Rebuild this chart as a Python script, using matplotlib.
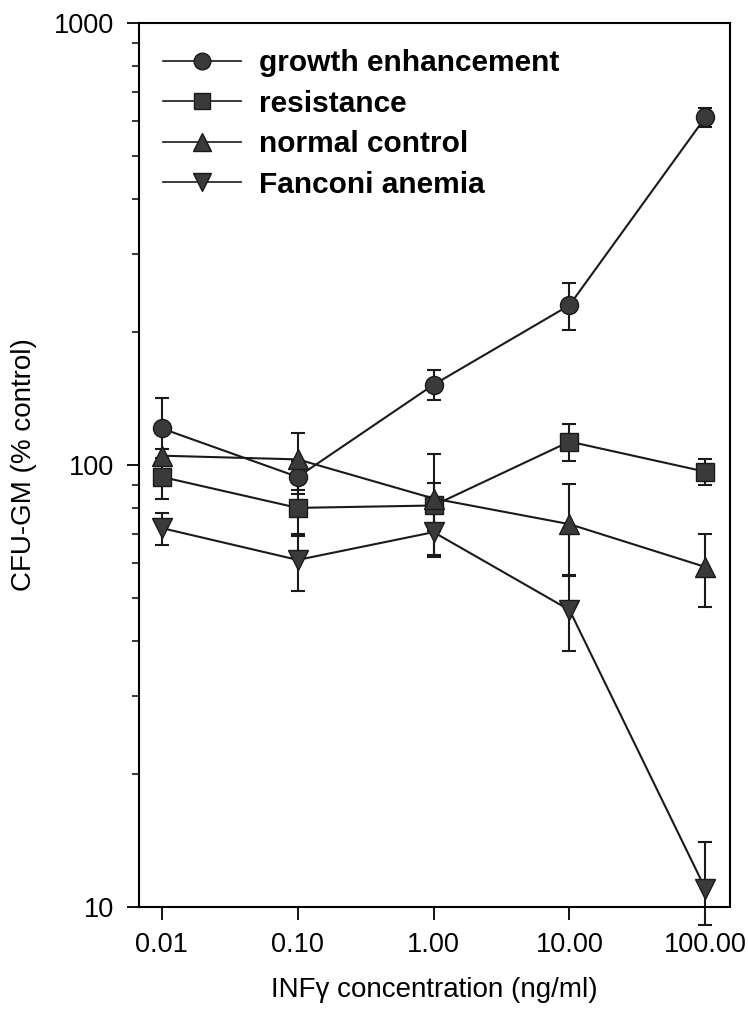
import matplotlib
matplotlib.use("Agg")
import matplotlib.pyplot as plt
from matplotlib.lines import Line2D
import numpy as np

plt.rcParams['font.family'] = ['Liberation Sans', 'DejaVu Sans']

conc = [0.01, 0.1, 1, 10, 100]
conc_labels = ["0.01", "0.10", "1.00", "10.00", "100.00"]

growth = [121, 94, 152, 230, 612]
growth_err = [21, 8, 12, 28, 30]

resistance = [94, 80, 81, 113, 96.6]
resistance_err = [10, 11, 10, 11, 6.5]

normal = [105, 103, 84, 73.5, 58.8]
normal_err = [4, 15, 22, 17, 11]

fanconi = [72, 61, 70.5, 47, 11.0]
fanconi_err_low = [6, 9, 8, 9, 1.9]
fanconi_err_high = [6, 9, 8, 9, 3]

series = [
    ("growth enhancement", growth, [growth_err, growth_err], "o"),
    ("resistance", resistance, [resistance_err, resistance_err], "s"),
    ("normal control", normal, [normal_err, normal_err], "^"),
    ("Fanconi anemia", fanconi, [fanconi_err_low, fanconi_err_high], "v"),
]

fig = plt.figure(figsize=(7.48, 10.23), dpi=100)
ax = fig.add_axes([0.186, 0.1134, 0.790, 0.864])

handles = []
for label, vals, err, mk in series:
    ms = 13 if mk in ("o", "s") else 14
    ax.errorbar(conc, vals, yerr=err, marker=mk, ms=ms, color="#1a1a1a",
                mfc="#3a3a3a", mec="#1a1a1a", lw=1.5, elinewidth=1.5,
                capsize=4.7, capthick=1.5, clip_on=False)
    handles.append(Line2D([], [], marker=mk, ms=ms - 1, color="#1a1a1a",
                          mfc="#3a3a3a", mec="#1a1a1a", lw=1.2, label=label))

ax.set_xscale("log")
ax.set_yscale("log")
ax.set_xlim(0.0068, 152)
ax.set_ylim(10, 1000)
ax.set_xticks(conc)
ax.set_xticklabels(conc_labels)
ax.xaxis.set_minor_locator(matplotlib.ticker.NullLocator())
ax.set_yticks([10, 100, 1000])
ax.set_yticklabels(["10", "100", "1000"])

ax.tick_params(axis="both", which="major", direction="out", length=9,
               width=1.3, labelsize=19.5, pad=9)
ax.tick_params(axis="y", which="minor", direction="out", length=5, width=1.1)
ax.tick_params(top=False, right=False)
for sp in ax.spines.values():
    sp.set_linewidth(1.5)

ax.set_xlabel("INF\u03b3 concentration (ng/ml)", fontsize=20, labelpad=14)
ax.set_ylabel("CFU-GM (% control)", fontsize=20, labelpad=12)

leg = ax.legend(handles=handles, loc="upper left", frameon=False,
                prop={"size": 21.5, "weight": "bold"},
                handlelength=2.6, handletextpad=0.6, labelspacing=0.42,
                borderaxespad=0.3, bbox_to_anchor=(0.005, 0.994))

fig.savefig("out.png", dpi=100)
